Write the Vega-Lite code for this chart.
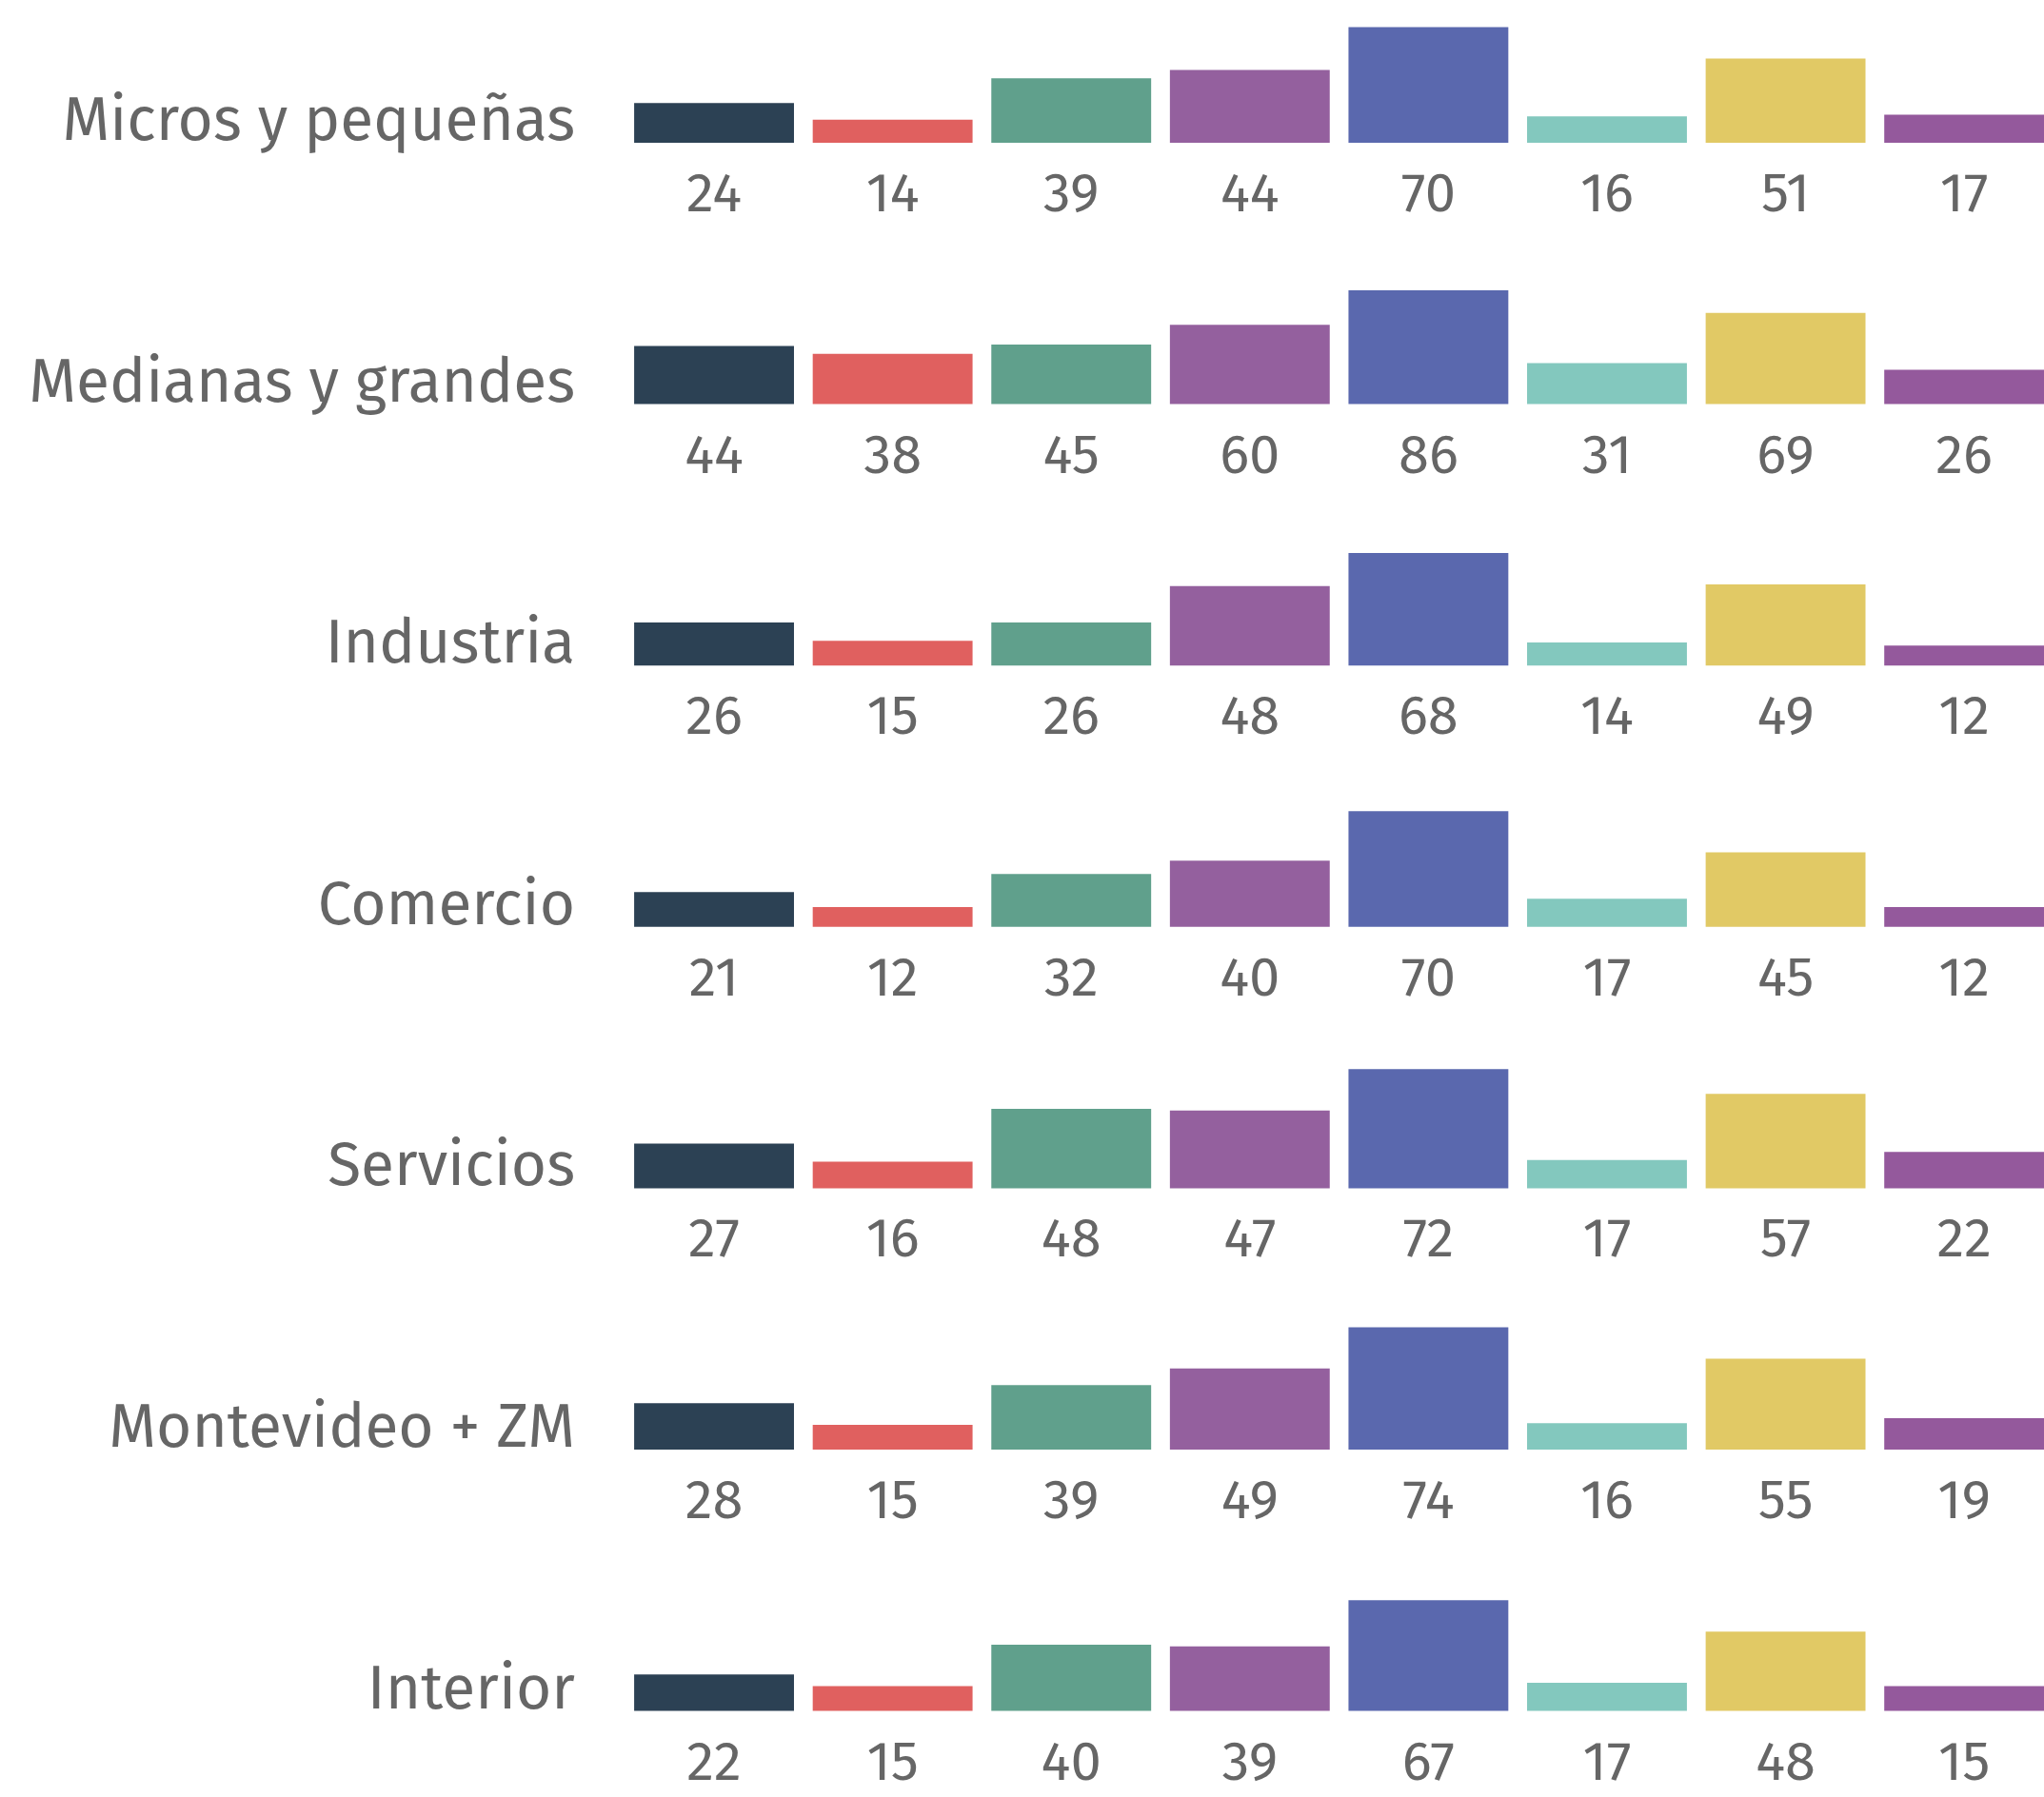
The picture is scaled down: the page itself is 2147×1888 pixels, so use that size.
{
  "$schema": "https://vega.github.io/schema/vega-lite/v6.json",
  "padding": {"left": 30.1, "top": 11, "right": 0, "bottom": 0},
  "background": "white",
  "data": {"values": [
    {"seg": "Micros y pequeñas", "cat": "c1", "valor": 24},
    {"seg": "Micros y pequeñas", "cat": "c2", "valor": 14},
    {"seg": "Micros y pequeñas", "cat": "c3", "valor": 39},
    {"seg": "Micros y pequeñas", "cat": "c4", "valor": 44},
    {"seg": "Micros y pequeñas", "cat": "c5", "valor": 70},
    {"seg": "Micros y pequeñas", "cat": "c6", "valor": 16},
    {"seg": "Micros y pequeñas", "cat": "c7", "valor": 51},
    {"seg": "Micros y pequeñas", "cat": "c8", "valor": 17},
    {"seg": "Medianas y grandes", "cat": "c1", "valor": 44},
    {"seg": "Medianas y grandes", "cat": "c2", "valor": 38},
    {"seg": "Medianas y grandes", "cat": "c3", "valor": 45},
    {"seg": "Medianas y grandes", "cat": "c4", "valor": 60},
    {"seg": "Medianas y grandes", "cat": "c5", "valor": 86},
    {"seg": "Medianas y grandes", "cat": "c6", "valor": 31},
    {"seg": "Medianas y grandes", "cat": "c7", "valor": 69},
    {"seg": "Medianas y grandes", "cat": "c8", "valor": 26},
    {"seg": "Industria", "cat": "c1", "valor": 26},
    {"seg": "Industria", "cat": "c2", "valor": 15},
    {"seg": "Industria", "cat": "c3", "valor": 26},
    {"seg": "Industria", "cat": "c4", "valor": 48},
    {"seg": "Industria", "cat": "c5", "valor": 68},
    {"seg": "Industria", "cat": "c6", "valor": 14},
    {"seg": "Industria", "cat": "c7", "valor": 49},
    {"seg": "Industria", "cat": "c8", "valor": 12},
    {"seg": "Comercio", "cat": "c1", "valor": 21},
    {"seg": "Comercio", "cat": "c2", "valor": 12},
    {"seg": "Comercio", "cat": "c3", "valor": 32},
    {"seg": "Comercio", "cat": "c4", "valor": 40},
    {"seg": "Comercio", "cat": "c5", "valor": 70},
    {"seg": "Comercio", "cat": "c6", "valor": 17},
    {"seg": "Comercio", "cat": "c7", "valor": 45},
    {"seg": "Comercio", "cat": "c8", "valor": 12},
    {"seg": "Servicios", "cat": "c1", "valor": 27},
    {"seg": "Servicios", "cat": "c2", "valor": 16},
    {"seg": "Servicios", "cat": "c3", "valor": 48},
    {"seg": "Servicios", "cat": "c4", "valor": 47},
    {"seg": "Servicios", "cat": "c5", "valor": 72},
    {"seg": "Servicios", "cat": "c6", "valor": 17},
    {"seg": "Servicios", "cat": "c7", "valor": 57},
    {"seg": "Servicios", "cat": "c8", "valor": 22},
    {"seg": "Montevideo + ZM", "cat": "c1", "valor": 28},
    {"seg": "Montevideo + ZM", "cat": "c2", "valor": 15},
    {"seg": "Montevideo + ZM", "cat": "c3", "valor": 39},
    {"seg": "Montevideo + ZM", "cat": "c4", "valor": 49},
    {"seg": "Montevideo + ZM", "cat": "c5", "valor": 74},
    {"seg": "Montevideo + ZM", "cat": "c6", "valor": 16},
    {"seg": "Montevideo + ZM", "cat": "c7", "valor": 55},
    {"seg": "Montevideo + ZM", "cat": "c8", "valor": 19},
    {"seg": "Interior", "cat": "c1", "valor": 22},
    {"seg": "Interior", "cat": "c2", "valor": 15},
    {"seg": "Interior", "cat": "c3", "valor": 40},
    {"seg": "Interior", "cat": "c4", "valor": 39},
    {"seg": "Interior", "cat": "c5", "valor": 67},
    {"seg": "Interior", "cat": "c6", "valor": 17},
    {"seg": "Interior", "cat": "c7", "valor": 48},
    {"seg": "Interior", "cat": "c8", "valor": 15}
  ]},
  "facet": {
    "row": {
      "field": "seg", "type": "nominal", "title": null,
      "sort": ["Micros y pequeñas", "Medianas y grandes", "Industria", "Comercio", "Servicios", "Montevideo + ZM", "Interior"],
      "header": {"labels": false}
    }
  },
  "bounds": "flush",
  "spacing": {"row": 135.6},
  "spec": {
    "width": 1481,
    "height": 139,
    "encoding": {
      "x": {"field": "cat", "type": "nominal", "axis": null, "scale": {"paddingInner": 0.105, "paddingOuter": 0}}
    },
    "layer": [
      {
        "mark": {"type": "bar"},
        "encoding": {
          "y": {"field": "valor", "type": "quantitative", "axis": null, "scale": {"nice": 4, "zero": true}},
          "color": {
            "field": "cat", "type": "nominal", "legend": null,
            "scale": {
              "domain": ["c1", "c2", "c3", "c4", "c5", "c6", "c7", "c8"],
              "range": ["#2C4154", "#E0605F", "#60A08C", "#94609E", "#5A68AE", "#83C8BE", "#E1C965", "#94599C"]
            }
          }
        }
      },
      {
        "mark": {"type": "text", "baseline": "alphabetic", "dy": 72, "fontSize": 58, "font": "Fira Sans, Noto Sans", "color": "#666666"},
        "encoding": {
          "y": {"datum": 0},
          "text": {"field": "valor", "type": "quantitative"}
        }
      },
      {
        "transform": [{"filter": "datum.cat == 'c1'"}],
        "mark": {"type": "text", "baseline": "alphabetic", "align": "right", "dx": -146, "dy": -3, "fontSize": 64, "font": "Fira Sans, Noto Sans", "color": "#666666"},
        "encoding": {
          "y": {"datum": 0},
          "text": {"field": "seg", "type": "nominal"}
        }
      }
    ]
  },
  "resolve": {"scale": {"y": "independent"}},
  "config": {"view": {"stroke": null}}
}
